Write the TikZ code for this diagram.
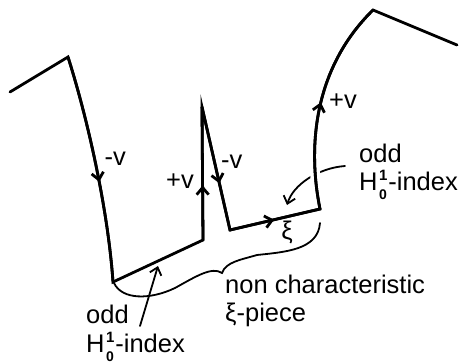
\documentclass[tikz,border=0pt]{standalone}
\usepackage{fontspec}
\setmainfont{Liberation Sans}
\usetikzlibrary{arrows.meta,decorations.markings}
\tikzset{
  mainline/.style={line width=2.8pt, line join=miter, line cap=round},
  thinline/.style={line width=1.8pt, line cap=round},
  barb/.style={-{Straight Barb[length=7pt,width=12pt]}},
  midarrow/.style={postaction={decorate}, decoration={markings,
      mark=at position #1 with {\arrow{Straight Barb[length=7pt,width=12pt]}}}},
  lbl/.style={inner sep=0pt, anchor=base west, font=\fontsize{25.5}{28}\selectfont},
  mid/.style={inner sep=0pt, anchor=center, font=\fontsize{25.5}{28}\selectfont},
}
\newcommand{\Hidx}{H\hspace{1.5pt}\rlap{\raisebox{10pt}{\fontsize{15}{15}\bfseries\selectfont 1}}\raisebox{-9.5pt}{\fontsize{14}{14}\bfseries\selectfont 0}\hspace{1.5pt}-index}
\begin{document}
\begin{tikzpicture}[x=1pt,y=-1pt]
\useasboundingbox (0,0) rectangle (461,364);
% path points
\coordinate (p0) at (10,92);
\coordinate (p1) at (68,57);
\coordinate (p2) at (113,282);
\coordinate (p3) at (203,240);
\coordinate (p4) at (202,107);
\coordinate (p5) at (230,230);
\coordinate (p6) at (320,209);
\coordinate (p7) at (373,10);
\coordinate (p8) at (457,45);
% annotation arrow (upper right), behind the curve
\coordinate (a1) at (345,166);
\coordinate (a2) at (287,205);
\draw[thinline, barb] (a1) .. controls (318,168) and (293,185) .. (a2);
% white gap along right curve
\draw[white, line width=10pt] (p6) .. controls (308,150) and (312,70) .. (p7);
% main path
\draw[mainline] (p0) -- (p1) .. controls (88,120) and (108,210) .. (p2) -- (p3) -- (p4) -- (p5) -- (p6)
   .. controls (308,150) and (312,70) .. (p7) -- (p8);
% arrows on main path
\draw[mainline, midarrow=0.56] (p1) .. controls (88,120) and (108,210) .. (p2);
\draw[mainline, midarrow=0.41] (p3) -- (p4);
\draw[mainline, midarrow=0.62] (p4) -- (p5);
\draw[mainline, midarrow=0.49] (p5) -- (p6);
\draw[mainline, midarrow=0.50] (p6) .. controls (308,150) and (312,70) .. (p7);
% lower-left annotation arrow
\coordinate (b1) at (140,326);
\coordinate (b2) at (158,266);
\draw[thinline, barb] (b1) -- (b2);
% brace
\coordinate (c0) at (114,283);
\coordinate (c1) at (222,273);
\coordinate (c2) at (320,223);
\draw[thinline] (c0) .. controls (122,300) and (150,300) .. (175,288)
   .. controls (195,277) and (212,266) .. (c1)
   .. controls (226,262) and (240,260) .. (257,255)
   .. controls (285,252) and (318,250) .. (c2);
% labels
\node[lbl] (lv1) at (104.5,165) {-v};
\node[lbl] (lv2) at (166,188) {+v};
\node[lbl] (lv3) at (221,168) {-v};
\node[lbl] (lv4) at (329,108) {+v};
\node[mid] (xi) at (287,232) {ξ};
\node[lbl] (odd1) at (359,162) {odd};
\node[lbl] (h1) at (359,190) {\Hidx};
\node[lbl] (odd2) at (86,323) {odd};
\node[lbl] (h2) at (86,352) {\Hidx};
\node[lbl] (nc) at (225,293) {non characteristic};
\node[lbl] (xp) at (225,321) {ξ-piece};
\end{tikzpicture}
\end{document}
